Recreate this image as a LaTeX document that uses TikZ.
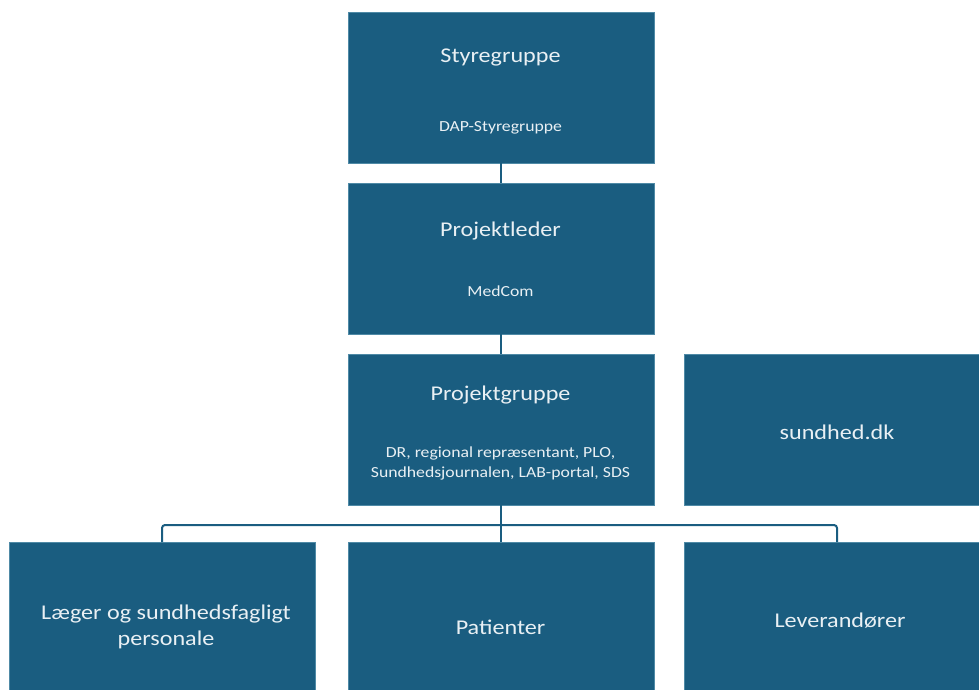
\documentclass[tikz,border=0pt]{standalone}
\usepackage{fontspec}
\setmainfont[FakeStretch=1.15]{Carlito}
\definecolor{boxblue}{HTML}{1A5D80}
\definecolor{boxedge}{HTML}{4F8AA6}
\definecolor{txt}{HTML}{E9F0F4}
\begin{document}
\begin{tikzpicture}[x=1pt,y=-1pt,
  box/.style={draw=boxedge, line width=0.8pt, fill=boxblue, anchor=north west,
    inner sep=0pt, outer sep=0pt, minimum width=306pt},
  ttl/.style={text=txt, anchor=base, inner sep=0pt, font=\fontsize{21}{26}\selectfont, align=center},
  sub/.style={text=txt, anchor=base, inner sep=0pt, font=\fontsize{15.4}{19.5}\selectfont, align=center},
  conn/.style={draw=boxblue, line width=2pt}]
\useasboundingbox (0,0) rectangle (979,689);
% boxes
\node[box, minimum height=151pt] (sty) at (348,12) {};
\node[box, minimum height=151pt] (pl) at (348,183) {};
\node[box, minimum height=151pt] (pg) at (348,354) {};
\node[box, minimum height=151pt] (sdk) at (684,354) {};
\node[box, minimum height=170pt] (laeg) at (9,542) {};
\node[box, minimum height=170pt] (pat) at (348,542) {};
\node[box, minimum height=170pt] (lev) at (684,542) {};
% texts
\node[ttl] (styT) at (500.5,62) {Styregruppe};
\node[sub] (styS) at (500.5,131) {DAP-Styregruppe};
\node[ttl] (plT) at (500.5,236) {Projektleder};
\node[sub] (plS) at (500.5,296) {MedCom};
\node[ttl] (pgT) at (500.5,400) {Projektgruppe};
\node[sub] (pgS) at (500.5,477) {DR, regional repræsentant,\ PLO,\\Sundhedsjournalen, LAB-portal, SDS};
\node[ttl] (sdkT) at (837,439) {sundhed.dk};
\node[ttl] (laegT) at (166,645) {Læger og sundhedsfagligt\\personale};
\node[ttl] (patT) at (500.5,634) {Patienter};
\node[ttl] (levT) at (840,627) {Leverandører};
% connectors
\coordinate (jn) at (500.5,525);
\draw[conn] (sty.south) -- (pl.north);
\draw[conn] (pl.south) -- (pg.north);
\draw[conn] (pg.south) -- (pat.north);
\draw[conn, rounded corners=3pt] (laeg.north) |- (jn) -| (lev.north);
\end{tikzpicture}
\end{document}
